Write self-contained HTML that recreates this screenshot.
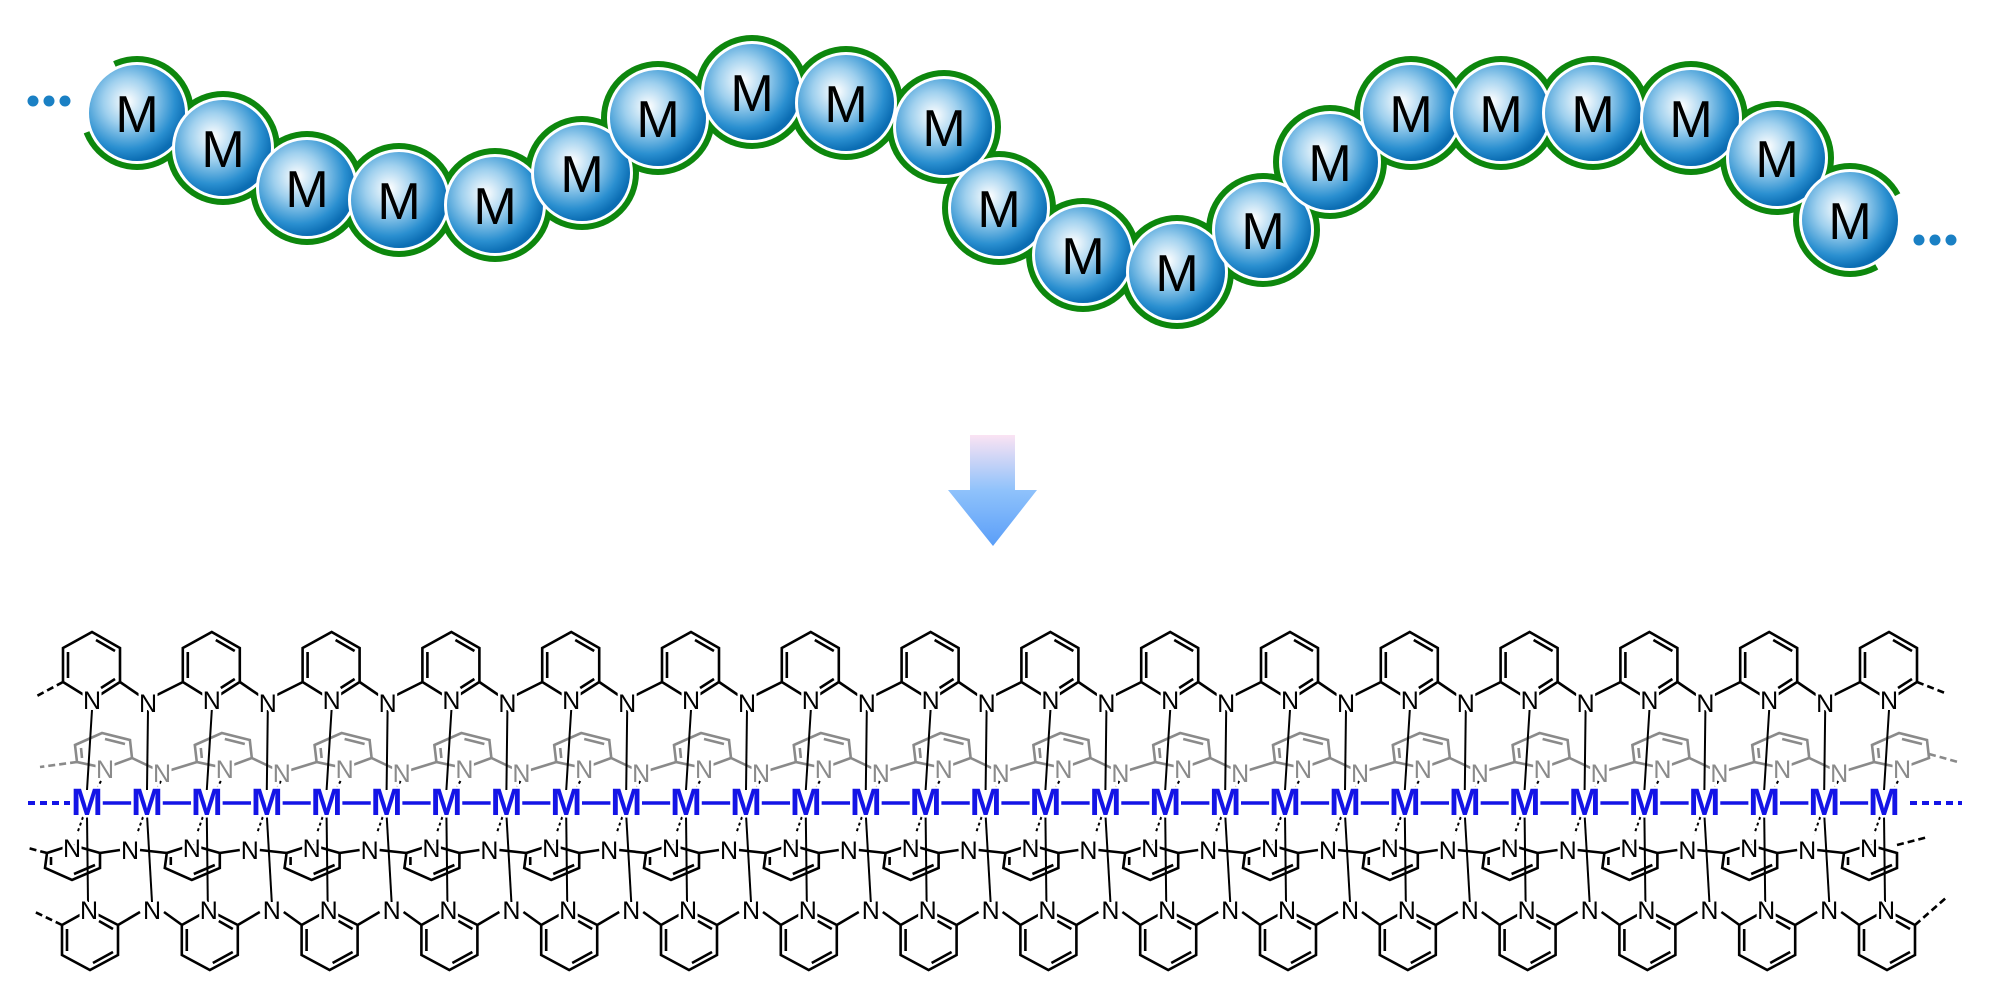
<!DOCTYPE html>
<html><head><meta charset="utf-8"><style>
html,body{margin:0;padding:0;background:#fff}
svg{display:block}
.n{font-family:"Liberation Sans",sans-serif;font-size:25px;text-anchor:middle;fill:#000;stroke:#fff;stroke-width:5px;paint-order:stroke}
.g{font-family:"Liberation Sans",sans-serif;font-size:25px;text-anchor:middle;fill:#8a8a8a;stroke:#fff;stroke-width:5px;paint-order:stroke}
.m{font-family:"Liberation Sans",sans-serif;font-size:38px;font-weight:bold;text-anchor:middle;fill:#1414e6;stroke:#fff;stroke-width:5px;paint-order:stroke}
.b{font-family:"Liberation Sans",sans-serif;font-size:52px;text-anchor:middle;fill:#000}
</style></head><body>
<svg width="2000" height="998" viewBox="0 0 2000 998" xmlns="http://www.w3.org/2000/svg">
<defs>
<radialGradient id="bg" cx="0.4" cy="0.38" r="0.62">
<stop offset="0" stop-color="#ffffff"/><stop offset="0.4" stop-color="#9fd0ee"/><stop offset="0.8" stop-color="#2a8fd0"/><stop offset="1" stop-color="#0b6db3"/>
</radialGradient>
<linearGradient id="ag" x1="0" y1="0" x2="0" y2="1">
<stop offset="0" stop-color="#fbe3f3"/><stop offset="0.5" stop-color="#8fc2fb"/><stop offset="1" stop-color="#5a9ef8"/>
</linearGradient>
<g id="topRing" fill="none" stroke="#000" stroke-width="2.6">
<polygon points="5,700 33,682 33,648 5,632 -24,648 -24,682"/>
<line x1="9" y1="640" x2="28" y2="651"/><line x1="-19" y1="652" x2="-19" y2="678"/><line x1="14" y1="688" x2="28" y2="679"/>
</g>
<g id="topLink" stroke="#000" stroke-width="2.6"><line x1="33" y1="682" x2="52" y2="695"/><line x1="70" y1="695" x2="96" y2="682"/></g>
<g id="greyRing" fill="none" stroke="#8a8a8a" stroke-width="2.6">
<polygon points="-12,745 15,733 43,740 45,758 18,768 -10,762"/>
<line x1="18" y1="739" x2="38" y2="744"/><line x1="-6" y1="748" x2="-5" y2="758"/>
</g>
<g id="greyLink" stroke="#8a8a8a" stroke-width="2.6"><line x1="45" y1="758" x2="66" y2="768"/><line x1="84" y1="770" x2="110" y2="762"/></g>
<g id="lowRing" fill="none" stroke="#000" stroke-width="2.6">
<polygon points="-15,845 13,853 13,868 -15,880 -42,868 -40,853"/>
<line x1="-13" y1="874" x2="8" y2="865"/><line x1="-36" y1="857" x2="-36" y2="865"/>
</g>
<g id="lowLink" stroke="#000" stroke-width="2.6"><line x1="13" y1="853" x2="33" y2="850"/><line x1="53" y1="850" x2="80" y2="853"/></g>
<g id="botRing" fill="none" stroke="#000" stroke-width="2.6">
<polygon points="2,910 31,925 31,955 3,970 -25,955 -25,925"/>
<line x1="6" y1="963" x2="26" y2="952"/><line x1="-20" y1="929" x2="-20" y2="951"/><line x1="12" y1="921" x2="26" y2="929"/>
</g>
<g id="botLink" stroke="#000" stroke-width="2.6"><line x1="31" y1="925" x2="53" y2="912"/><line x1="77" y1="912" x2="95" y2="925"/></g>
<g id="vert1" stroke="#000" stroke-width="2">
<line x1="5" y1="710" x2="0" y2="790"/><line x1="0" y1="815" x2="1" y2="902"/>
<line x1="14" y1="781" x2="8" y2="792" stroke-dasharray="3,3"/><line x1="-4" y1="817" x2="-10" y2="834" stroke-dasharray="3,3"/>
</g>
<g id="vert2" stroke="#000" stroke-width="2">
<line x1="61" y1="710" x2="60" y2="790"/><line x1="60" y1="815" x2="65" y2="902"/>
<line x1="74" y1="781" x2="68" y2="792" stroke-dasharray="3,3"/><line x1="56" y1="817" x2="50" y2="834" stroke-dasharray="3,3"/>
</g>
</defs>

<!-- top chain -->
<g fill="#0d870d">
<circle cx="137" cy="113" r="57"/><circle cx="223" cy="148" r="57"/><circle cx="307" cy="188" r="57"/><circle cx="399" cy="200" r="57"/><circle cx="495" cy="205" r="57"/><circle cx="582" cy="173" r="57"/><circle cx="658" cy="118" r="57"/><circle cx="752" cy="92" r="57"/><circle cx="846" cy="103" r="57"/><circle cx="944" cy="127" r="57"/><circle cx="999" cy="208" r="57"/><circle cx="1083" cy="255" r="57"/><circle cx="1177" cy="272" r="57"/><circle cx="1263" cy="230" r="57"/><circle cx="1330" cy="162" r="57"/><circle cx="1411" cy="113" r="57"/><circle cx="1501" cy="113" r="57"/><circle cx="1593" cy="113" r="57"/><circle cx="1691" cy="118" r="57"/><circle cx="1777" cy="158" r="57"/><circle cx="1850" cy="220" r="57"/>
</g>
<polygon fill="#fff" points="137,113 107,48 74,77 64,113 69,139"/>
<polygon fill="#fff" points="1850,220 1914,186 1922,220 1913,256 1886,283"/>
<g>
<circle cx="137" cy="113" r="51" fill="#fff"/><circle cx="137" cy="113" r="48" fill="url(#bg)"/>
<circle cx="223" cy="148" r="51" fill="#fff"/><circle cx="223" cy="148" r="48" fill="url(#bg)"/>
<circle cx="307" cy="188" r="51" fill="#fff"/><circle cx="307" cy="188" r="48" fill="url(#bg)"/>
<circle cx="399" cy="200" r="51" fill="#fff"/><circle cx="399" cy="200" r="48" fill="url(#bg)"/>
<circle cx="495" cy="205" r="51" fill="#fff"/><circle cx="495" cy="205" r="48" fill="url(#bg)"/>
<circle cx="582" cy="173" r="51" fill="#fff"/><circle cx="582" cy="173" r="48" fill="url(#bg)"/>
<circle cx="658" cy="118" r="51" fill="#fff"/><circle cx="658" cy="118" r="48" fill="url(#bg)"/>
<circle cx="752" cy="92" r="51" fill="#fff"/><circle cx="752" cy="92" r="48" fill="url(#bg)"/>
<circle cx="846" cy="103" r="51" fill="#fff"/><circle cx="846" cy="103" r="48" fill="url(#bg)"/>
<circle cx="944" cy="127" r="51" fill="#fff"/><circle cx="944" cy="127" r="48" fill="url(#bg)"/>
<circle cx="999" cy="208" r="51" fill="#fff"/><circle cx="999" cy="208" r="48" fill="url(#bg)"/>
<circle cx="1083" cy="255" r="51" fill="#fff"/><circle cx="1083" cy="255" r="48" fill="url(#bg)"/>
<circle cx="1177" cy="272" r="51" fill="#fff"/><circle cx="1177" cy="272" r="48" fill="url(#bg)"/>
<circle cx="1263" cy="230" r="51" fill="#fff"/><circle cx="1263" cy="230" r="48" fill="url(#bg)"/>
<circle cx="1330" cy="162" r="51" fill="#fff"/><circle cx="1330" cy="162" r="48" fill="url(#bg)"/>
<circle cx="1411" cy="113" r="51" fill="#fff"/><circle cx="1411" cy="113" r="48" fill="url(#bg)"/>
<circle cx="1501" cy="113" r="51" fill="#fff"/><circle cx="1501" cy="113" r="48" fill="url(#bg)"/>
<circle cx="1593" cy="113" r="51" fill="#fff"/><circle cx="1593" cy="113" r="48" fill="url(#bg)"/>
<circle cx="1691" cy="118" r="51" fill="#fff"/><circle cx="1691" cy="118" r="48" fill="url(#bg)"/>
<circle cx="1777" cy="158" r="51" fill="#fff"/><circle cx="1777" cy="158" r="48" fill="url(#bg)"/>
<circle cx="1850" cy="220" r="51" fill="#fff"/><circle cx="1850" cy="220" r="48" fill="url(#bg)"/>
</g>
<g class="b">
<text class="b" x="137" y="132">M</text><text class="b" x="223" y="167">M</text><text class="b" x="307" y="207">M</text><text class="b" x="399" y="219">M</text><text class="b" x="495" y="224">M</text><text class="b" x="582" y="192">M</text><text class="b" x="658" y="137">M</text><text class="b" x="752" y="111">M</text><text class="b" x="846" y="122">M</text><text class="b" x="944" y="146">M</text><text class="b" x="999" y="227">M</text><text class="b" x="1083" y="274">M</text><text class="b" x="1177" y="291">M</text><text class="b" x="1263" y="249">M</text><text class="b" x="1330" y="181">M</text><text class="b" x="1411" y="132">M</text><text class="b" x="1501" y="132">M</text><text class="b" x="1593" y="132">M</text><text class="b" x="1691" y="137">M</text><text class="b" x="1777" y="177">M</text><text class="b" x="1850" y="239">M</text>
</g>
<g fill="#1a80c4">
<circle cx="33" cy="101" r="5.5"/><circle cx="49" cy="101" r="5.5"/><circle cx="65" cy="101" r="5.5"/>
<circle cx="1919" cy="240" r="5.5"/><circle cx="1935" cy="240" r="5.5"/><circle cx="1951" cy="240" r="5.5"/>
</g>

<!-- arrow -->
<polygon fill="url(#ag)" points="970,435 1015,435 1015,490 1037,490 993,546 948,490 970,490"/>

<!-- bottom structure: metal chain -->
<line x1="28" y1="803" x2="70" y2="803" stroke="#1414e6" stroke-width="4" stroke-dasharray="7,5"/>
<line x1="1910" y1="803" x2="1962" y2="803" stroke="#1414e6" stroke-width="4" stroke-dasharray="7,5"/>
<line x1="87" y1="803" x2="1884" y2="803" stroke="#1414e6" stroke-width="3.5"/>

<!-- end dashes -->
<g stroke="#000" stroke-width="2.6" stroke-dasharray="7,4">
<line x1="63" y1="682" x2="35" y2="697"/><line x1="1917" y1="682" x2="1945" y2="693"/>
<line x1="62" y1="925" x2="35" y2="912"/><line x1="1915" y1="925" x2="1947" y2="897"/>
<line x1="47" y1="853" x2="28" y2="848"/><line x1="1897" y1="845" x2="1928" y2="837"/>
</g>
<g stroke="#8a8a8a" stroke-width="2.6" stroke-dasharray="7,4">
<line x1="77" y1="762" x2="40" y2="767"/><line x1="1929" y1="754" x2="1958" y2="762"/>
</g>

<g transform="translate(87,0)"><use href="#greyRing"/><use href="#greyLink"/><use href="#topRing"/><use href="#topLink"/><use href="#lowRing"/><use href="#lowLink"/><use href="#botRing"/><use href="#botLink"/><use href="#vert1"/><use href="#vert2"/></g>
<g transform="translate(206.8,0)"><use href="#greyRing"/><use href="#greyLink"/><use href="#topRing"/><use href="#topLink"/><use href="#lowRing"/><use href="#lowLink"/><use href="#botRing"/><use href="#botLink"/><use href="#vert1"/><use href="#vert2"/></g>
<g transform="translate(326.6,0)"><use href="#greyRing"/><use href="#greyLink"/><use href="#topRing"/><use href="#topLink"/><use href="#lowRing"/><use href="#lowLink"/><use href="#botRing"/><use href="#botLink"/><use href="#vert1"/><use href="#vert2"/></g>
<g transform="translate(446.4,0)"><use href="#greyRing"/><use href="#greyLink"/><use href="#topRing"/><use href="#topLink"/><use href="#lowRing"/><use href="#lowLink"/><use href="#botRing"/><use href="#botLink"/><use href="#vert1"/><use href="#vert2"/></g>
<g transform="translate(566.2,0)"><use href="#greyRing"/><use href="#greyLink"/><use href="#topRing"/><use href="#topLink"/><use href="#lowRing"/><use href="#lowLink"/><use href="#botRing"/><use href="#botLink"/><use href="#vert1"/><use href="#vert2"/></g>
<g transform="translate(686,0)"><use href="#greyRing"/><use href="#greyLink"/><use href="#topRing"/><use href="#topLink"/><use href="#lowRing"/><use href="#lowLink"/><use href="#botRing"/><use href="#botLink"/><use href="#vert1"/><use href="#vert2"/></g>
<g transform="translate(805.8,0)"><use href="#greyRing"/><use href="#greyLink"/><use href="#topRing"/><use href="#topLink"/><use href="#lowRing"/><use href="#lowLink"/><use href="#botRing"/><use href="#botLink"/><use href="#vert1"/><use href="#vert2"/></g>
<g transform="translate(925.6,0)"><use href="#greyRing"/><use href="#greyLink"/><use href="#topRing"/><use href="#topLink"/><use href="#lowRing"/><use href="#lowLink"/><use href="#botRing"/><use href="#botLink"/><use href="#vert1"/><use href="#vert2"/></g>
<g transform="translate(1045.4,0)"><use href="#greyRing"/><use href="#greyLink"/><use href="#topRing"/><use href="#topLink"/><use href="#lowRing"/><use href="#lowLink"/><use href="#botRing"/><use href="#botLink"/><use href="#vert1"/><use href="#vert2"/></g>
<g transform="translate(1165.2,0)"><use href="#greyRing"/><use href="#greyLink"/><use href="#topRing"/><use href="#topLink"/><use href="#lowRing"/><use href="#lowLink"/><use href="#botRing"/><use href="#botLink"/><use href="#vert1"/><use href="#vert2"/></g>
<g transform="translate(1285,0)"><use href="#greyRing"/><use href="#greyLink"/><use href="#topRing"/><use href="#topLink"/><use href="#lowRing"/><use href="#lowLink"/><use href="#botRing"/><use href="#botLink"/><use href="#vert1"/><use href="#vert2"/></g>
<g transform="translate(1404.8,0)"><use href="#greyRing"/><use href="#greyLink"/><use href="#topRing"/><use href="#topLink"/><use href="#lowRing"/><use href="#lowLink"/><use href="#botRing"/><use href="#botLink"/><use href="#vert1"/><use href="#vert2"/></g>
<g transform="translate(1524.6,0)"><use href="#greyRing"/><use href="#greyLink"/><use href="#topRing"/><use href="#topLink"/><use href="#lowRing"/><use href="#lowLink"/><use href="#botRing"/><use href="#botLink"/><use href="#vert1"/><use href="#vert2"/></g>
<g transform="translate(1644.4,0)"><use href="#greyRing"/><use href="#greyLink"/><use href="#topRing"/><use href="#topLink"/><use href="#lowRing"/><use href="#lowLink"/><use href="#botRing"/><use href="#botLink"/><use href="#vert1"/><use href="#vert2"/></g>
<g transform="translate(1764.2,0)"><use href="#greyRing"/><use href="#greyLink"/><use href="#topRing"/><use href="#topLink"/><use href="#lowRing"/><use href="#lowLink"/><use href="#botRing"/><use href="#botLink"/><use href="#vert1"/><use href="#vert2"/></g>
<g transform="translate(1884,0)"><use href="#greyRing"/><use href="#topRing"/><use href="#lowRing"/><use href="#botRing"/><use href="#vert1"/></g>

<!-- labels per unit -->
<g transform="translate(87,0)"><text class="g" x="18" y="778">N</text><text class="g" x="75" y="782">N</text><text class="n" x="5" y="709">N</text><text class="n" x="61" y="712">N</text><text class="n" x="-15" y="857">N</text><text class="n" x="43" y="859">N</text><text class="n" x="2" y="919">N</text><text class="n" x="65" y="919">N</text><text class="m" x="0" y="815">M</text><text class="m" x="60" y="815">M</text></g>
<g transform="translate(206.8,0)"><text class="g" x="18" y="778">N</text><text class="g" x="75" y="782">N</text><text class="n" x="5" y="709">N</text><text class="n" x="61" y="712">N</text><text class="n" x="-15" y="857">N</text><text class="n" x="43" y="859">N</text><text class="n" x="2" y="919">N</text><text class="n" x="65" y="919">N</text><text class="m" x="0" y="815">M</text><text class="m" x="60" y="815">M</text></g>
<g transform="translate(326.6,0)"><text class="g" x="18" y="778">N</text><text class="g" x="75" y="782">N</text><text class="n" x="5" y="709">N</text><text class="n" x="61" y="712">N</text><text class="n" x="-15" y="857">N</text><text class="n" x="43" y="859">N</text><text class="n" x="2" y="919">N</text><text class="n" x="65" y="919">N</text><text class="m" x="0" y="815">M</text><text class="m" x="60" y="815">M</text></g>
<g transform="translate(446.4,0)"><text class="g" x="18" y="778">N</text><text class="g" x="75" y="782">N</text><text class="n" x="5" y="709">N</text><text class="n" x="61" y="712">N</text><text class="n" x="-15" y="857">N</text><text class="n" x="43" y="859">N</text><text class="n" x="2" y="919">N</text><text class="n" x="65" y="919">N</text><text class="m" x="0" y="815">M</text><text class="m" x="60" y="815">M</text></g>
<g transform="translate(566.2,0)"><text class="g" x="18" y="778">N</text><text class="g" x="75" y="782">N</text><text class="n" x="5" y="709">N</text><text class="n" x="61" y="712">N</text><text class="n" x="-15" y="857">N</text><text class="n" x="43" y="859">N</text><text class="n" x="2" y="919">N</text><text class="n" x="65" y="919">N</text><text class="m" x="0" y="815">M</text><text class="m" x="60" y="815">M</text></g>
<g transform="translate(686,0)"><text class="g" x="18" y="778">N</text><text class="g" x="75" y="782">N</text><text class="n" x="5" y="709">N</text><text class="n" x="61" y="712">N</text><text class="n" x="-15" y="857">N</text><text class="n" x="43" y="859">N</text><text class="n" x="2" y="919">N</text><text class="n" x="65" y="919">N</text><text class="m" x="0" y="815">M</text><text class="m" x="60" y="815">M</text></g>
<g transform="translate(805.8,0)"><text class="g" x="18" y="778">N</text><text class="g" x="75" y="782">N</text><text class="n" x="5" y="709">N</text><text class="n" x="61" y="712">N</text><text class="n" x="-15" y="857">N</text><text class="n" x="43" y="859">N</text><text class="n" x="2" y="919">N</text><text class="n" x="65" y="919">N</text><text class="m" x="0" y="815">M</text><text class="m" x="60" y="815">M</text></g>
<g transform="translate(925.6,0)"><text class="g" x="18" y="778">N</text><text class="g" x="75" y="782">N</text><text class="n" x="5" y="709">N</text><text class="n" x="61" y="712">N</text><text class="n" x="-15" y="857">N</text><text class="n" x="43" y="859">N</text><text class="n" x="2" y="919">N</text><text class="n" x="65" y="919">N</text><text class="m" x="0" y="815">M</text><text class="m" x="60" y="815">M</text></g>
<g transform="translate(1045.4,0)"><text class="g" x="18" y="778">N</text><text class="g" x="75" y="782">N</text><text class="n" x="5" y="709">N</text><text class="n" x="61" y="712">N</text><text class="n" x="-15" y="857">N</text><text class="n" x="43" y="859">N</text><text class="n" x="2" y="919">N</text><text class="n" x="65" y="919">N</text><text class="m" x="0" y="815">M</text><text class="m" x="60" y="815">M</text></g>
<g transform="translate(1165.2,0)"><text class="g" x="18" y="778">N</text><text class="g" x="75" y="782">N</text><text class="n" x="5" y="709">N</text><text class="n" x="61" y="712">N</text><text class="n" x="-15" y="857">N</text><text class="n" x="43" y="859">N</text><text class="n" x="2" y="919">N</text><text class="n" x="65" y="919">N</text><text class="m" x="0" y="815">M</text><text class="m" x="60" y="815">M</text></g>
<g transform="translate(1285,0)"><text class="g" x="18" y="778">N</text><text class="g" x="75" y="782">N</text><text class="n" x="5" y="709">N</text><text class="n" x="61" y="712">N</text><text class="n" x="-15" y="857">N</text><text class="n" x="43" y="859">N</text><text class="n" x="2" y="919">N</text><text class="n" x="65" y="919">N</text><text class="m" x="0" y="815">M</text><text class="m" x="60" y="815">M</text></g>
<g transform="translate(1404.8,0)"><text class="g" x="18" y="778">N</text><text class="g" x="75" y="782">N</text><text class="n" x="5" y="709">N</text><text class="n" x="61" y="712">N</text><text class="n" x="-15" y="857">N</text><text class="n" x="43" y="859">N</text><text class="n" x="2" y="919">N</text><text class="n" x="65" y="919">N</text><text class="m" x="0" y="815">M</text><text class="m" x="60" y="815">M</text></g>
<g transform="translate(1524.6,0)"><text class="g" x="18" y="778">N</text><text class="g" x="75" y="782">N</text><text class="n" x="5" y="709">N</text><text class="n" x="61" y="712">N</text><text class="n" x="-15" y="857">N</text><text class="n" x="43" y="859">N</text><text class="n" x="2" y="919">N</text><text class="n" x="65" y="919">N</text><text class="m" x="0" y="815">M</text><text class="m" x="60" y="815">M</text></g>
<g transform="translate(1644.4,0)"><text class="g" x="18" y="778">N</text><text class="g" x="75" y="782">N</text><text class="n" x="5" y="709">N</text><text class="n" x="61" y="712">N</text><text class="n" x="-15" y="857">N</text><text class="n" x="43" y="859">N</text><text class="n" x="2" y="919">N</text><text class="n" x="65" y="919">N</text><text class="m" x="0" y="815">M</text><text class="m" x="60" y="815">M</text></g>
<g transform="translate(1764.2,0)"><text class="g" x="18" y="778">N</text><text class="g" x="75" y="782">N</text><text class="n" x="5" y="709">N</text><text class="n" x="61" y="712">N</text><text class="n" x="-15" y="857">N</text><text class="n" x="43" y="859">N</text><text class="n" x="2" y="919">N</text><text class="n" x="65" y="919">N</text><text class="m" x="0" y="815">M</text><text class="m" x="60" y="815">M</text></g>
<g transform="translate(1884,0)"><text class="g" x="18" y="778">N</text><text class="n" x="5" y="709">N</text><text class="n" x="-15" y="857">N</text><text class="n" x="2" y="919">N</text><text class="m" x="0" y="815">M</text></g>
</svg>
</body></html>
